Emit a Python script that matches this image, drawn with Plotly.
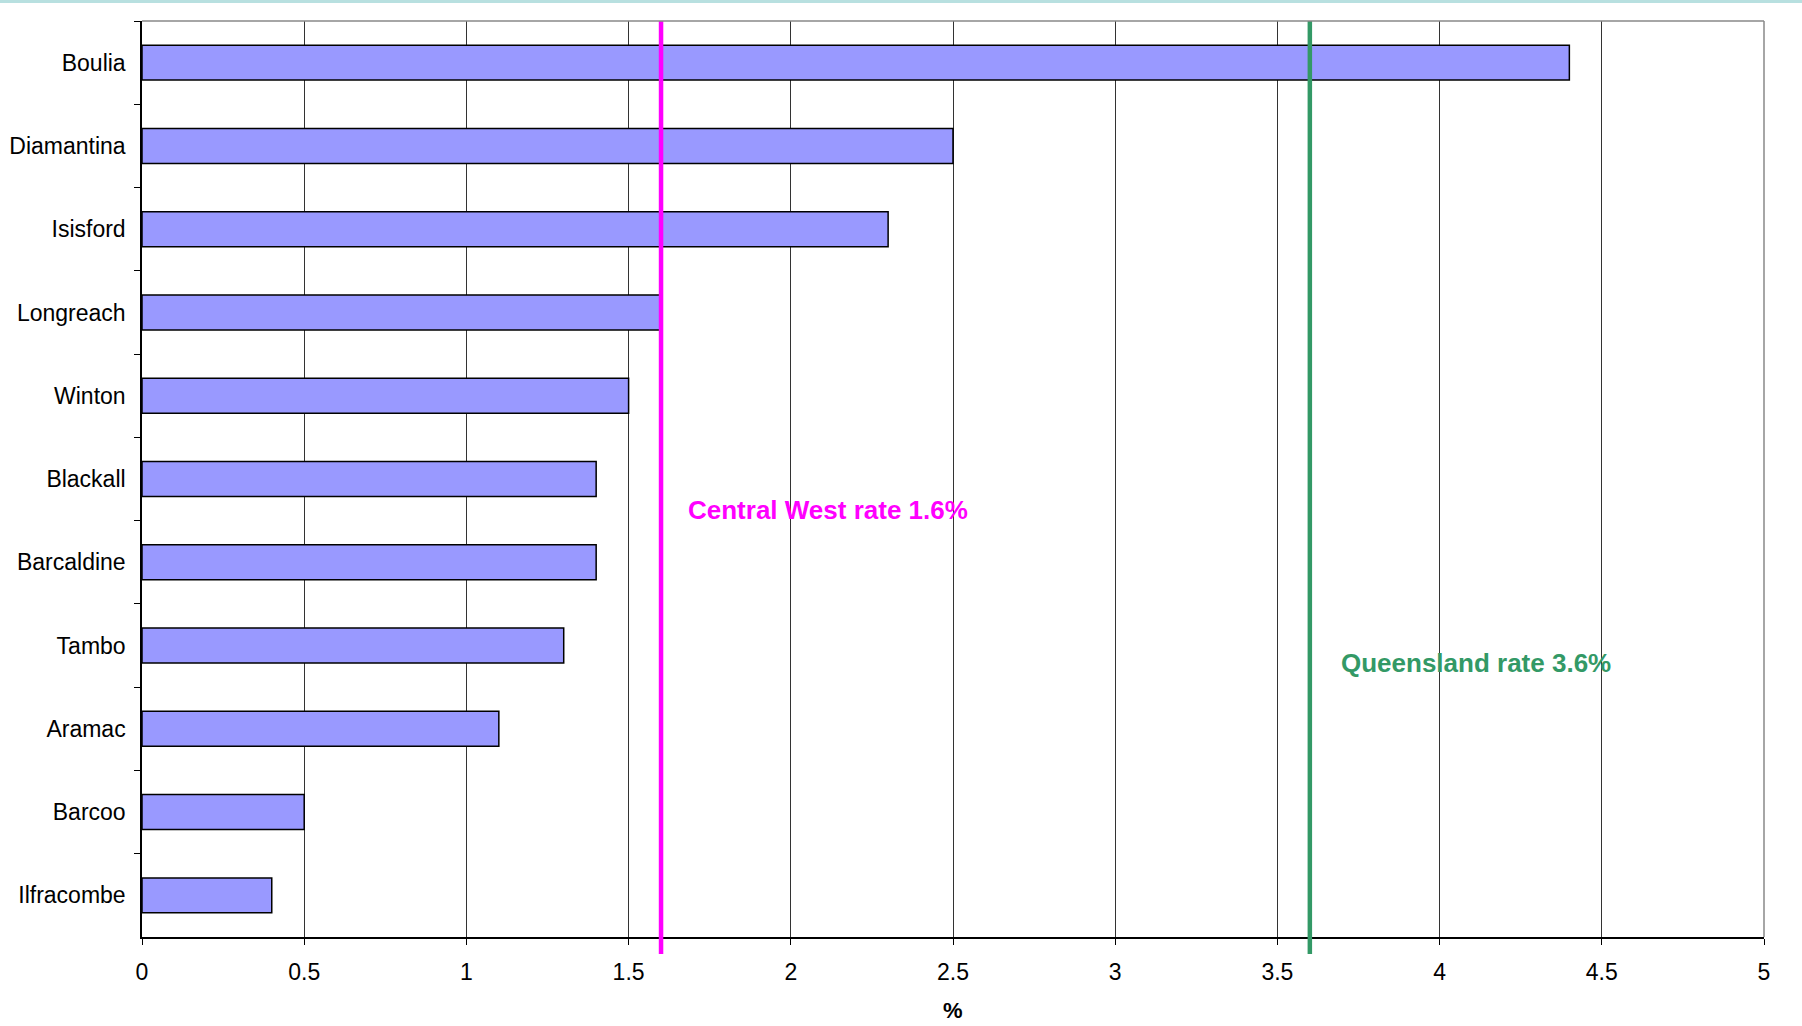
import plotly.graph_objects as go

categories = ["Boulia", "Diamantina", "Isisford", "Longreach", "Winton", "Blackall",
              "Barcaldine", "Tambo", "Aramac", "Barcoo", "Ilfracombe"]
values = [4.4, 2.5, 2.3, 1.6, 1.5, 1.4, 1.4, 1.3, 1.1, 0.5, 0.4]
central_west_rate = 1.6
queensland_rate = 3.6
x_ticks = [0, 0.5, 1, 1.5, 2, 2.5, 3, 3.5, 4, 4.5, 5]
x_tick_labels = ["0", "0.5", "1", "1.5", "2", "2.5", "3", "3.5", "4", "4.5", "5"]

W, H = 1802, 1026
ML, MR, MT, MB = 142, 38, 21, 89
PW, PH = W - ML - MR, H - MT - MB

FONT = "Liberation Sans, Arial, sans-serif"

fig = go.Figure()
fig.add_trace(go.Bar(
    y=categories, x=values, orientation="h",
    marker=dict(color="#9999FF", line=dict(color="black", width=1.5)),
    hoverinfo="x+y", showlegend=False,
))

shapes = [
    # reference lines
    dict(type="line", xref="x", yref="paper", x0=central_west_rate, x1=central_west_rate,
         y0=-17 / PH, y1=1, line=dict(color="#FF00FF", width=4.5), layer="above"),
    dict(type="line", xref="x", yref="paper", x0=queensland_rate, x1=queensland_rate,
         y0=-17 / PH, y1=1, line=dict(color="#339966", width=4.5), layer="above"),
    # grey plot border (top / right)
    dict(type="line", xref="paper", yref="paper", x0=0, x1=1, y0=1, y1=1,
         line=dict(color="#888888", width=1.5), layer="above"),
    dict(type="line", xref="paper", yref="paper", x0=1, x1=1, y0=0, y1=1,
         line=dict(color="#888888", width=1.5), layer="above"),
    # top cyan strip
    dict(type="rect", xref="paper", yref="paper", x0=-ML / PW, x1=1 + MR / PW,
         y0=1 + (MT - 3) / PH, y1=1 + (MT + 1) / PH,
         line=dict(width=0), fillcolor="#B8E0E0", layer="above"),
]

annotations = [
    dict(text="<b>Central West rate 1.6%</b>", xref="x", yref="paper",
         x=1.677, y=1 - (510 - MT) / PH, xanchor="left", yanchor="middle",
         showarrow=False, font=dict(family=FONT, size=26, color="#FF00FF")),
    dict(text="<b>Queensland rate 3.6%</b>", xref="x", yref="paper",
         x=3.689, y=1 - (663 - MT) / PH, xanchor="left", yanchor="middle",
         showarrow=False, font=dict(family=FONT, size=26, color="#339966")),
    dict(text="<b>%</b>", xref="paper", yref="paper", x=0.5, y=-(1011 - (MT + PH)) / PH,
         xanchor="center", yanchor="middle", showarrow=False,
         font=dict(family=FONT, size=22, color="black")),
]

fig.update_layout(
    width=W, height=H,
    margin=dict(l=ML, r=MR, t=MT, b=MB, pad=0),
    paper_bgcolor="white", plot_bgcolor="white",
    bargap=0.58,
    font=dict(family=FONT, size=23, color="black"),
    shapes=shapes, annotations=annotations,
    xaxis=dict(
        range=[0, 5], tickvals=x_ticks, ticktext=x_tick_labels,
        showgrid=True, gridcolor="#333333", gridwidth=1,
        showline=True, linecolor="black", linewidth=1.5,
        ticks="outside", ticklen=6, tickcolor="black", tickwidth=1,
        zeroline=False, ticklabelstandoff=8, automargin=False,
        tickfont=dict(family=FONT, size=23, color="black"),
    ),
    yaxis=dict(
        categoryorder="array", categoryarray=categories,
        range=[len(categories) - 0.5, -0.5],
        showgrid=False, showline=True, linecolor="black", linewidth=1.5,
        ticks="outside", ticklen=6, tickcolor="black", tickwidth=1,
        tickson="boundaries", zeroline=False, ticklabelstandoff=10, automargin=False,
        tickfont=dict(family=FONT, size=23, color="black"),
    ),
)

fig.write_html(
    "out.html",
    config={"displayModeBar": False},
    post_script="document.body.style.margin='0';document.body.style.padding='0';"
                "document.body.style.overflow='hidden';",
)
